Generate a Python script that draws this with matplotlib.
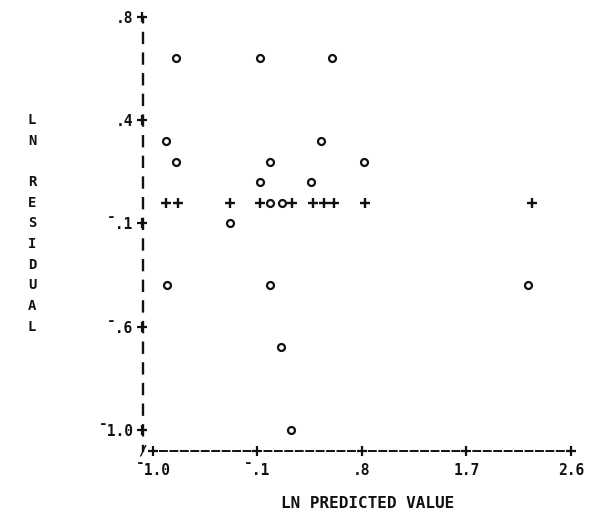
import matplotlib
matplotlib.use("Agg")
import matplotlib.pyplot as plt
import matplotlib.transforms as mtransforms

plt.rcParams['lines.scale_dashes'] = False

MONO = ['DejaVu Sans Mono']
INK = '#111111'

# Cases printed with the 'o' symbol
circle_x = [-0.80, -0.08, 0.54, -0.89, 0.45, -0.80, 0.01, 0.82, -0.08, 0.36,
            0.01, 0.11, -0.34, -0.88, 0.01, 2.23, 0.10, 0.19]
circle_y = [0.62, 0.62, 0.62, 0.26, 0.26, 0.17, 0.17, 0.17, 0.08, 0.08,
            -0.01, -0.01, -0.10, -0.37, -0.37, -0.37, -0.64, -1.00]

# Cases printed with the '+' symbol
plus_x = [-0.89, -0.78, -0.34, -0.08, 0.20, 0.38, 0.47, 0.56, 0.83, 2.26]
plus_y = [-0.01, -0.01, -0.01, -0.01, -0.01, -0.01, -0.01, -0.01, -0.01, -0.01]

x_ticks = [-1.0, -0.1, 0.8, 1.7, 2.6]
x_tick_labels = ['\u00af1.0', '\u00af.1', '.8', '1.7', '2.6']
y_ticks = [0.8, 0.35, -0.1, -0.55, -1.0]
y_tick_labels = ['.8', '.4', '\u00af.1', '\u00af.6', '\u00af1.0']

x_label = 'LN PREDICTED VALUE'
y_label = 'LN RESIDUAL'

X_MIN, X_MAX = -1.09, 2.6
Y_MIN, Y_MAX = -1.09, 0.8
ROW = 0.09  # one printer line

fig = plt.figure(figsize=(5.95, 5.23), dpi=100)
fig.patch.set_facecolor('white')
ax = fig.add_axes([142.5 / 595, (523 - 450.6) / 523, 428.5 / 595, (450.6 - 17) / 523])
ax.set_xlim(X_MIN, X_MAX)
ax.set_ylim(Y_MIN, Y_MAX)
ax.set_facecolor('white')

# printer-style axes: '|' down the left, '-' along the bottom
for side in ('top', 'right'):
    ax.spines[side].set_visible(False)
ax.spines['left'].set_color(INK)
ax.spines['left'].set_linewidth(1.7)
ax.spines['left'].set_linestyle((3.6, (7.2, 7.67)))
ax.spines['bottom'].set_color(INK)
ax.spines['bottom'].set_linewidth(1.4)
ax.spines['bottom'].set_bounds(x_ticks[0], x_ticks[-1])
ax.spines['bottom'].set_linestyle((2.5, (5.0, 2.52)))

ax.set_xticks(x_ticks)
ax.set_xticklabels(x_tick_labels)
ax.set_yticks(y_ticks)
ax.set_yticklabels(y_tick_labels)
ax.tick_params(length=0, colors=INK)
ax.tick_params(axis='y', pad=6.5)
ax.tick_params(axis='x', pad=9)
for lab in ax.get_xticklabels() + ax.get_yticklabels():
    lab.set_fontfamily(MONO)
    lab.set_fontweight('bold')
    lab.set_fontsize(10.5)

# '+' at every labelled position on both axes
ax.plot([X_MIN] * len(y_ticks), y_ticks, linestyle='none', marker='+',
        markersize=7.5, markeredgewidth=1.6, color=INK, clip_on=False, zorder=5)
ax.plot(x_ticks, [Y_MIN] * len(x_ticks), linestyle='none', marker='+',
        markersize=7.5, markeredgewidth=1.6, color=INK, clip_on=False, zorder=5)
ax.text(X_MIN, Y_MIN, '/', ha='center', va='center', fontfamily=MONO,
        fontweight='bold', fontsize=10, color=INK)

# data
ax.plot(circle_x, circle_y, linestyle='none', marker='o', markersize=5,
        markerfacecolor='white', markeredgecolor=INK, markeredgewidth=1.6,
        clip_on=False, zorder=4)
ax.plot(plus_x, plus_y, linestyle='none', marker='+', markersize=7.5,
        markeredgewidth=1.7, color=INK, clip_on=False, zorder=4)

# vertical axis title, one letter per printer line
trans = mtransforms.blended_transform_factory(fig.transFigure, ax.transData)
row = 5
for ch in y_label:
    if ch != ' ':
        ax.text(32 / 595, Y_MAX - ROW * row, ch, transform=trans, ha='center',
                va='center', fontfamily=MONO, fontweight='bold', fontsize=10,
                color=INK)
    row += 1

fig.text(368 / 595, 1 - 503 / 523, x_label, ha='center', va='center',
         fontfamily=MONO, fontweight='bold', fontsize=11.5, color=INK)

fig.savefig('out.png', dpi=100, facecolor='white')
